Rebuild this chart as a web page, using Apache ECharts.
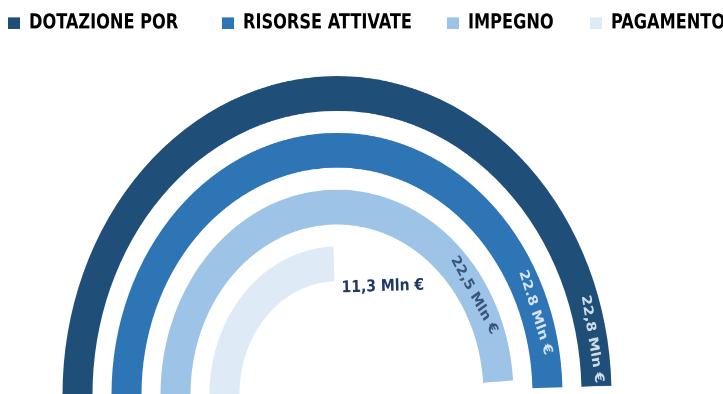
<!DOCTYPE html>
<html>
<head>
    <meta charset="utf-8">
    <title>Dotazione POR</title>
    <script src="https://cdn.jsdelivr.net/npm/echarts@6/dist/echarts.min.js"></script>
    <style>
        html, body { margin: 0; padding: 0; background: #fff; }
        body { width: 723px; height: 394px; overflow: hidden; }
        /* the reference is stretched vertically, so the chart is drawn at 340px and stretched to 394 */
        #main { width: 723px; height: 340px; transform: scaleY(1.16); transform-origin: 0 0; }
    </style>
</head>
<body>
<div id="main"></div>
<script>
    // legend order, outer ring first
    var names = ['DOTAZIONE POR', 'RISORSE ATTIVATE', 'IMPEGNO', 'PAGAMENTO'];
    var values = [22.8, 22.8, 22.5, 11.3];
    var labels = ['22,8 Mln €', '22.8 Mln €', '22,5 Mln €', '11,3 Mln €'];
    // rings from inside to outside
    var rings = ['PAGAMENTO', 'IMPEGNO', 'RISORSE ATTIVATE', 'DOTAZIONE POR'];
    var colors = ['#1f4e79', '#2e75b6', '#9dc3e6', '#deebf7'];
    var labelColors = ['#ffffff', '#ffffff', '#1f3864', '#1f3864'];
    // how many degrees each label sits back from the end of its arc
    var labelBack = [9, 18, 28, 0];

    var angleMax = 46;
    var startAngle = 180;

    var myChart = echarts.init(document.getElementById('main'), null, {devicePixelRatio: 2});

    var labelFont = '"DejaVu Sans", sans-serif';
    var legendLeft = [3, 217, 442, 585];
    var legends = [];
    var series = [];
    for (var i = 0; i < names.length; i++) {
        legends.push({
            data: [names[i]],
            left: legendLeft[i],
            top: 6,
            itemWidth: 12,
            itemHeight: 10,
            itemGap: 0,
            icon: 'rect',
            textStyle: {
                fontFamily: '"Liberation Sans Narrow", "DejaVu Sans Condensed", sans-serif',
                fontWeight: 'bold',
                fontSize: 18,
                color: '#000',
                padding: [0, 0, 0, 4]
            }
        });
        var d = rings.map(function (r) { return r === names[i] ? values[i] : '-'; });
        var bar = {
            name: names[i],
            type: 'bar',
            coordinateSystem: 'polar',
            stack: 'ring',
            barWidth: 30,
            data: d,
            itemStyle: { color: colors[i] }
        };
        if (names[i] === 'PAGAMENTO') {
            // flat label just past the end of the short arc
            bar.label = {
                show: true,
                position: 'end',
                rotate: 'tangential',
                offset: [2, 21],
                formatter: labels[i],
                color: labelColors[i],
                fontFamily: labelFont,
                fontWeight: 'bold',
                fontSize: 14
            };
            series.push(bar);
        } else {
            series.push(bar);
            // label sitting on the arc, a little before its end, turned along the ring
            var at = values[i] - labelBack[i] / 360 * angleMax;
            var sweep = at / angleMax * 360;
            series.push({
                name: names[i] + ' label',
                type: 'scatter',
                coordinateSystem: 'polar',
                symbolSize: 0,
                silent: true,
                z: 5,
                data: [[rings.indexOf(names[i]), at]],
                label: {
                    show: true,
                    position: 'inside',
                    rotate: startAngle - 90 - sweep,
                    formatter: labels[i],
                    color: labelColors[i],
                    fontFamily: labelFont,
                    fontWeight: 'bold',
                    fontSize: 13
                }
            });
        }
    }

    var option = {
        animation: false,
        color: colors,
        legend: legends,
        polar: {
            center: [337, 340],
            radius: [88, 284]
        },
        angleAxis: {
            type: 'value',
            min: 0,
            max: angleMax,
            startAngle: startAngle,
            clockwise: true,
            show: false
        },
        radiusAxis: {
            type: 'category',
            data: rings,
            show: false
        },
        series: series
    };
    myChart.setOption(option);
</script>
</body>
</html>
